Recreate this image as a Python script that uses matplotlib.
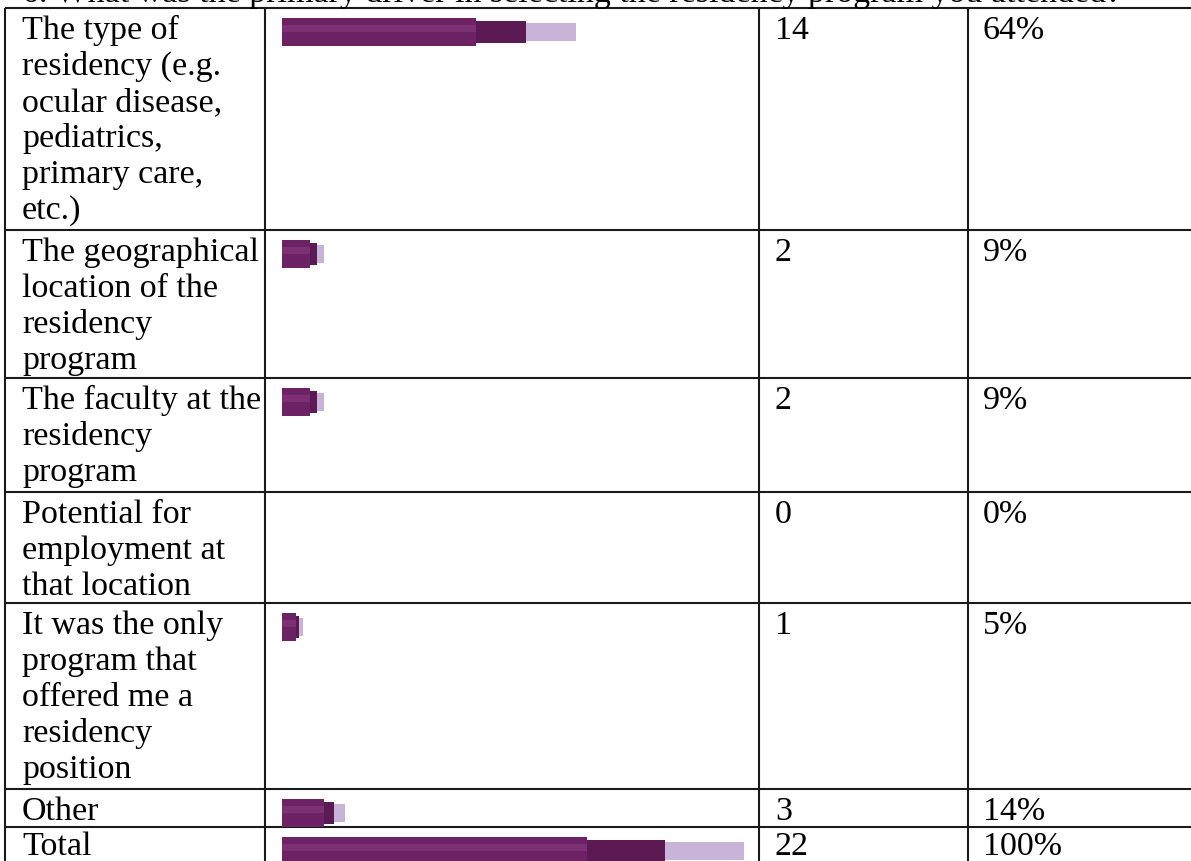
import numpy as np
import matplotlib.pyplot as plt

plt.rcParams['font.family'] = ['Liberation Serif', 'DejaVu Serif']

# table contents
question = "6. What was the primary driver in selecting the residency program you attended?"
answers = [
    ["The type of", "residency (e.g.", "ocular disease,", "pediatrics,", "primary care,", "etc.)"],
    ["The geographical", "location of the", "residency", "program"],
    ["The faculty at the", "residency", "program"],
    ["Potential for", "employment at", "that location"],
    ["It was the only", "program that", "offered me a", "residency", "position"],
    ["Other"],
    ["Total"],
]
counts = [14, 2, 2, 0, 1, 3, 22]
percents = ["64%", "9%", "9%", "0%", "5%", "14%", "100%"]

# page layout in pixels
W, H = 1191, 861
row_lines = [8, 230, 378, 492, 603, 789, 827]
col_lines = [5, 265, 759, 968]
px_per_count = 21
bar_x0 = 282

fig = plt.figure(figsize=(W / 100, H / 100), dpi=100)
ax = fig.add_axes([0, 0, 1, 1])
ax.set_xlim(0, W)
ax.set_ylim(H, 0)
ax.axis('off')

# bars live in their own axes, x in counts
bax = fig.add_axes([0, 0, 1, 1], sharey=ax)
bax.set_xlim(-bar_x0 / px_per_count, (W - bar_x0) / px_per_count)
bax.axis('off')
bax.patch.set_alpha(0)

# grid of the table
for y in row_lines:
    ax.plot([col_lines[0], W], [y, y], color='#1a1a1a', lw=1.5, solid_capstyle='butt')
for x in col_lines:
    ax.plot([x, x], [row_lines[0], H], color='#1a1a1a', lw=1.5, solid_capstyle='butt')

fs = 24.5
# question line, cut off by the top of the scan
ax.text(22, 2, question, fontsize=fs, color='#000000', va='baseline', ha='left')

for i, top in enumerate(row_lines):
    base = top + (28 if i == len(row_lines) - 1 else 31)
    for j, line in enumerate(answers[i]):
        ax.text(22, base + j * 36, line, fontsize=fs, color='#000000', va='baseline')
    ax.text(775, base, str(counts[i]), fontsize=fs, color='#000000', va='baseline')
    ax.text(983, base, percents[i], fontsize=fs, color='#000000', va='baseline')

    c = counts[i]
    if c == 0:
        continue
    yc = top + 24
    main = 0.66 * c
    neck = 0.17 * c
    cap = 0.17 * c
    bax.barh(yc, main, left=0, height=28, color='#6e2266', edgecolor='none')
    bax.barh(yc - 4, main, left=0, height=7, color='#8a3a80', edgecolor='none', alpha=0.6)
    bax.barh(yc, neck, left=main, height=22, color='#5c1a55', edgecolor='none')
    bax.barh(yc, cap, left=main + neck, height=18, color='#c9b3d8', edgecolor='none')

fig.savefig('out.png', dpi=100, facecolor='white')
